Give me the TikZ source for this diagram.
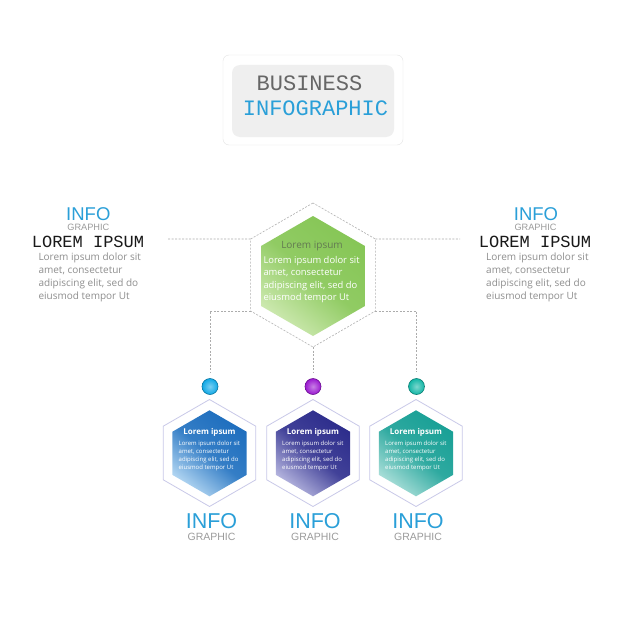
\documentclass[tikz,border=0pt]{standalone}
\usepackage{fontspec}
\setmainfont{Open Sans}
\newfontfamily\headfont{Liberation Mono}
\newfontfamily\labelfont{Liberation Sans}
\usetikzlibrary{shapes.geometric}

\definecolor{infoblue}{HTML}{2A9FD8}
\definecolor{capgray}{HTML}{9B9B9B}
\definecolor{bodygray}{HTML}{8E8E8E}
\definecolor{framegray}{HTML}{E4E4E4}
\definecolor{panelgray}{HTML}{EFEFEF}
\definecolor{rimline}{HTML}{C9C9E8}
\definecolor{leafgreen}{HTML}{86C656}
\definecolor{leafgreenlight}{HTML}{CDE9B0}
\definecolor{hexblue}{HTML}{1E6EBE}
\definecolor{hexbluelight}{HTML}{B2D6F2}
\definecolor{hexindigo}{HTML}{2D2D8C}
\definecolor{hexindigolight}{HTML}{B4B4DE}
\definecolor{hexteal}{HTML}{19A096}
\definecolor{hexteallight}{HTML}{A8DED8}
\definecolor{dotblue}{HTML}{0FA8E6}
\definecolor{dotpurple}{HTML}{9A18D0}
\definecolor{dotteal}{HTML}{12B6A6}

\tikzset{
  hex/.style={regular polygon, regular polygon sides=6, shape border rotate=30,
    inner sep=0pt, outer sep=0pt},
  rim/.style={hex, draw=rimline, line width=0.8pt, fill=white, minimum size=107pt},
  core/.style={hex, minimum size=86pt, top color=#1, bottom color=#1light,
    middle color=#1!85!#1light, shading angle=-40},
  link/.style={draw=gray!65, dash pattern=on 2pt off 1.5pt, line width=0.6pt},
  dot/.style={circle, minimum size=16pt, inner sep=0pt, inner color=#1!55!white,
    outer color=#1, draw=#1!70!black, line width=0.6pt},
  infotitle/.style={inner sep=0pt, text=infoblue, font=\labelfont\fontsize{#1}{#1}\selectfont},
  infosub/.style={inner sep=0pt, text=capgray, font=\labelfont\fontsize{#1}{#1}\selectfont},
  lorem/.style={inner sep=0pt, text=black!90, font=\headfont\fontsize{17}{17}\selectfont},
  sidebody/.style={anchor=north west, align=left, inner sep=0pt, text=bodygray,
    font=\fontsize{10}{12.8}\selectfont},
  hexhead/.style={anchor=base, inner sep=0pt, text=white, font=\bfseries\fontsize{8}{8}\selectfont},
  hexbody/.style={anchor=north west, align=left, inner sep=0pt, text=white,
    font=\fontsize{6}{8}\selectfont}
}

\begin{document}
\begin{tikzpicture}[x=1pt,y=-1pt]
  \path[use as bounding box, fill=white] (0,0) rectangle (626,626);

  % title panel
  \node[draw=framegray, fill=white, rounded corners=6pt, minimum width=180pt,
    minimum height=90pt] (frame) at (313,100) {};
  \node[fill=panelgray, rounded corners=8pt, minimum width=162pt,
    minimum height=72pt] (panel) at (313,101) {};
  \node[inner sep=0pt, text=black!60, font=\headfont\fontsize{22}{22}\selectfont]
    (business) at (309.5,83.4) {BUSINESS};
  \node[inner sep=0pt, text=infoblue, font=\headfont\fontsize{22}{22}\selectfont]
    (infographic) at (315.5,108) {INFOGRAPHIC};

  % side captions
  \node[infotitle=18.5] (infoL) at (88.3,214) {INFO};
  \node[infosub=9.2] (graphL) at (88.3,227) {GRAPHIC};
  \node[lorem] (loremL) at (88,241.7) {LOREM IPSUM};
  \node[sidebody] (bodyL) at (38.3,253.1)
    {Lorem ipsum dolor sit\\amet, consectetur\\adipiscing elit, sed do\\eiusmod tempor Ut};

  \node[infotitle=18.5] (infoR) at (536,214) {INFO};
  \node[infosub=9.2] (graphR) at (535.5,227) {GRAPHIC};
  \node[lorem] (loremR) at (535,241.7) {LOREM IPSUM};
  \node[sidebody] (bodyR) at (486,253.1)
    {Lorem ipsum dolor sit\\amet, consectetur\\adipiscing elit, sed do\\eiusmod tempor Ut};

  % centre hexagon
  \node[hex, draw=gray!60, dash pattern=on 2pt off 1.5pt, line width=0.6pt,
    minimum size=144pt] (hexout) at (313,275) {};
  \node[core=leafgreen, minimum size=120pt] (hexin) at (313,276) {};
  \node[anchor=base, inner sep=0pt, text=black!40!leafgreen!60!gray, font=\fontsize{10}{10}\selectfont]
    (leafhead) at (312,248.3) {Lorem ipsum};
  \node[anchor=north west, align=left, inner sep=0pt, text=white,
    font=\fontsize{9.4}{12.5}\selectfont] (leafbody) at (263.3,255.9)
    {Lorem ipsum dolor sit\\amet, consectetur\\adipiscing elit, sed do\\eiusmod tempor Ut};

  % dots
  \node[dot=dotblue] (dotL) at (210,386.5) {};
  \node[dot=dotpurple] (dotM) at (313,386.5) {};
  \node[dot=dotteal] (dotR) at (416.5,386.5) {};

  % connectors
  \coordinate (lnkL) at (168,239);
  \coordinate (lnkR) at (460,239);
  \draw[link] (lnkL) -- (hexout.150);
  \draw[link] (hexout.30) -- (lnkR);
  \draw[link, shorten >=6pt] (hexout.210) -| (dotL);
  \draw[link, shorten >=6pt] (hexout.270) -- (dotM);
  \draw[link, shorten >=6pt] (hexout.330) -| (dotR);

  % bottom hexagons
  \node[rim] (rimL) at (209.5,453) {};
  \node[core=hexblue] (coreL) at (209.5,453.3) {};
  \node[hexhead] (headL) at (209.5,434) {Lorem ipsum};
  \node[hexbody] (bodyBL) at (178.5,441.2)
    {Lorem ipsum dolor sit\\amet, consectetur\\adipiscing elit, sed do\\eiusmod tempor Ut};
  \node[infotitle=21.5] (infoBL) at (211.5,520.8) {INFO};
  \node[infosub=10.5] (graphBL) at (211.5,536.5) {GRAPHIC};

  \node[rim] (rimM) at (313,453) {};
  \node[core=hexindigo] (coreM) at (313,453.3) {};
  \node[hexhead] (headM) at (313,434) {Lorem ipsum};
  \node[hexbody] (bodyBM) at (282,441.2)
    {Lorem ipsum dolor sit\\amet, consectetur\\adipiscing elit, sed do\\eiusmod tempor Ut};
  \node[infotitle=21.5] (infoBM) at (315,520.8) {INFO};
  \node[infosub=10.5] (graphBM) at (315,536.5) {GRAPHIC};

  \node[rim] (rimR) at (416,453) {};
  \node[core=hexteal] (coreR) at (416,453.3) {};
  \node[hexhead] (headR) at (416,434) {Lorem ipsum};
  \node[hexbody] (bodyBR) at (385,441.2)
    {Lorem ipsum dolor sit\\amet, consectetur\\adipiscing elit, sed do\\eiusmod tempor Ut};
  \node[infotitle=21.5] (infoBR) at (418,520.8) {INFO};
  \node[infosub=10.5] (graphBR) at (418,536.5) {GRAPHIC};
\end{tikzpicture}
\end{document}
